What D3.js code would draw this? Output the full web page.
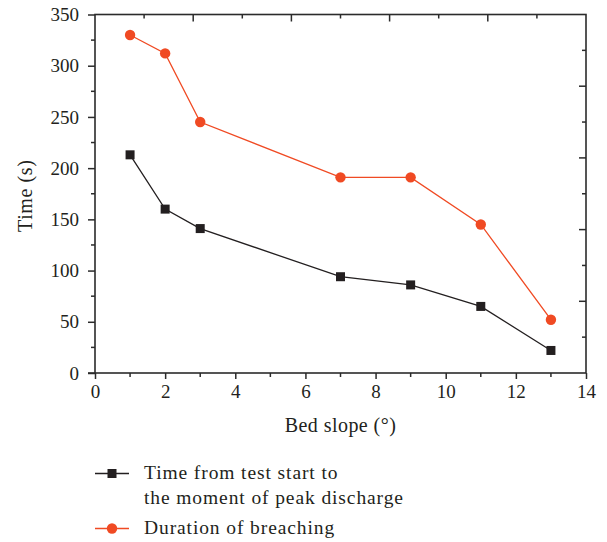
<!DOCTYPE html>
<html>
<head>
<meta charset="utf-8">
<script src="https://cdn.jsdelivr.net/npm/d3@7"></script>
<style>
  html, body { margin: 0; padding: 0; background: #fff; }
  svg { display: block; }
  text { font-family: "Liberation Serif", "DejaVu Serif", serif; fill: #231f20; }
</style>
</head>
<body>
<svg id="chart" width="607" height="542"></svg>
<script>
// Bed slope (degrees) tested
const slopes = [1, 2, 3, 7, 9, 11, 13];
// Time from test start to the moment of peak discharge (s)
const peakTime = [213, 160, 141, 94, 86, 65, 22];
// Duration of breaching (s)
const breachDuration = [330, 312, 245, 191, 191, 145, 52];

const xTicks = [0, 2, 4, 6, 8, 10, 12, 14];
const yTicks = [0, 50, 100, 150, 200, 250, 300, 350];

const seriesNames = [
  ["Time from test start to", "the moment of peak discharge"],
  ["Duration of breaching"]
];

const W = 607, H = 542;
const margin = { left: 95, right: W - 586, top: 14.5, bottom: H - 373 };
const svg = d3.select("#chart");
const axisColor = "#2b2b2b";
const black = "#231f20";
const red = "#f04a23";

const x = d3.scaleLinear().domain([0, 14]).range([margin.left, W - margin.right]);
const y = d3.scaleLinear().domain([0, 350]).range([H - margin.bottom, margin.top]);

// Bottom axis: major ticks labelled, minor ticks at odd values
const xAxis = d3.axisBottom(x).tickValues(xTicks).tickSize(6).tickSizeOuter(0).tickPadding(6);
const gx = svg.append("g").attr("transform", `translate(0,${y(0)})`).call(xAxis);
gx.selectAll("text").style("font-size", "19px").attr("dy", "0.71em");
gx.select(".domain").remove();
svg.append("g").selectAll("line")
  .data(d3.range(1, 14, 2)).join("line")
  .attr("x1", d => x(d)).attr("x2", d => x(d))
  .attr("y1", y(0)).attr("y2", y(0) + 4)
  .attr("stroke", axisColor).attr("stroke-width", 1.5);

// Left axis
const yAxis = d3.axisLeft(y).tickValues(yTicks).tickSize(7).tickSizeOuter(0).tickPadding(9);
const gy = svg.append("g").attr("transform", `translate(${x(0)},0)`).call(yAxis);
gy.selectAll("text").style("font-size", "19px");
gy.select(".domain").remove();
svg.append("g").selectAll("line")
  .data(d3.range(25, 350, 50)).join("line")
  .attr("x1", x(0) - 4).attr("x2", x(0))
  .attr("y1", d => y(d)).attr("y2", d => y(d))
  .attr("stroke", axisColor).attr("stroke-width", 1.5);

[gx, gy].forEach(g => g.selectAll(".tick line").attr("stroke", axisColor).attr("stroke-width", 1.5));

// Mirrored frame axes (top / right) on a unit scale with inward ticks
const xt = d3.scaleLinear().domain([0, 1]).range([W - margin.right, margin.left]);
const yr = d3.scaleLinear().domain([0, 1]).range([margin.top, H - margin.bottom]);
const frameTicks = d3.range(1, 10);
svg.append("g").selectAll("line")
  .data(frameTicks).join("line")
  .attr("x1", d => xt(d / 10)).attr("x2", d => xt(d / 10))
  .attr("y1", margin.top).attr("y2", d => margin.top + (d % 2 === 0 ? 7 : 4))
  .attr("stroke", axisColor).attr("stroke-width", 1.5);
svg.append("g").selectAll("line")
  .data(frameTicks).join("line")
  .attr("y1", d => yr(d / 10)).attr("y2", d => yr(d / 10))
  .attr("x1", W - margin.right).attr("x2", d => W - margin.right - (d % 2 === 0 ? 7 : 4))
  .attr("stroke", axisColor).attr("stroke-width", 1.5);

// Frame
svg.append("rect")
  .attr("x", x(0)).attr("y", y(350))
  .attr("width", x(14) - x(0)).attr("height", y(0) - y(350))
  .attr("fill", "none").attr("stroke", axisColor).attr("stroke-width", 1.6);
// axis lines extend slightly past the corner
svg.append("line").attr("x1", x(0) - 7).attr("x2", x(0)).attr("y1", y(0)).attr("y2", y(0))
  .attr("stroke", axisColor).attr("stroke-width", 1.6);

// Axis titles
svg.append("text")
  .attr("x", (x(0) + x(14)) / 2).attr("y", 432)
  .attr("text-anchor", "middle").style("font-size", "20px").style("letter-spacing", "0.45px")
  .text("Bed slope (°)");
svg.append("text")
  .attr("transform", `translate(32,${(y(0) + y(350)) / 2 + 2}) rotate(-90)`)
  .attr("text-anchor", "middle").style("font-size", "20px").style("letter-spacing", "0.6px")
  .text("Time (s)");

// Series
const line = d3.line().x(d => x(d[0])).y(d => y(d[1]));
const blackPts = slopes.map((s, i) => [s, peakTime[i]]);
const redPts = slopes.map((s, i) => [s, breachDuration[i]]);

svg.append("path").datum(redPts).attr("d", line)
  .attr("fill", "none").attr("stroke", red).attr("stroke-width", 1.3);
svg.append("path").datum(blackPts).attr("d", line)
  .attr("fill", "none").attr("stroke", black).attr("stroke-width", 1.3);

const sq = 9;
svg.append("g").selectAll("rect").data(blackPts).join("rect")
  .attr("x", d => x(d[0]) - sq / 2).attr("y", d => y(d[1]) - sq / 2)
  .attr("width", sq).attr("height", sq).attr("fill", black);
svg.append("g").selectAll("circle").data(redPts).join("circle")
  .attr("cx", d => x(d[0])).attr("cy", d => y(d[1])).attr("r", 5.2)
  .attr("fill", red);

// Legend
const lg = svg.append("g");
const legendRows = [
  { color: black, shape: "square", yLine: 473.5, lines: seriesNames[0], yText: 479 },
  { color: red, shape: "circle", yLine: 528.5, lines: seriesNames[1], yText: 534 }
];
legendRows.forEach(r => {
  lg.append("line").attr("x1", 95).attr("x2", 129).attr("y1", r.yLine).attr("y2", r.yLine)
    .attr("stroke", r.color).attr("stroke-width", 1.3);
  if (r.shape === "square") {
    lg.append("rect").attr("x", 112 - 4.5).attr("y", r.yLine - 4.5).attr("width", 9).attr("height", 9)
      .attr("fill", r.color);
  } else {
    lg.append("circle").attr("cx", 112).attr("cy", r.yLine).attr("r", 5.2).attr("fill", r.color);
  }
  r.lines.forEach((t, i) => {
    lg.append("text").attr("x", 144).attr("y", r.yText + i * 25)
      .style("font-size", "19.5px").style("letter-spacing", "0.9px").text(t);
  });
});
</script>
</body>
</html>
